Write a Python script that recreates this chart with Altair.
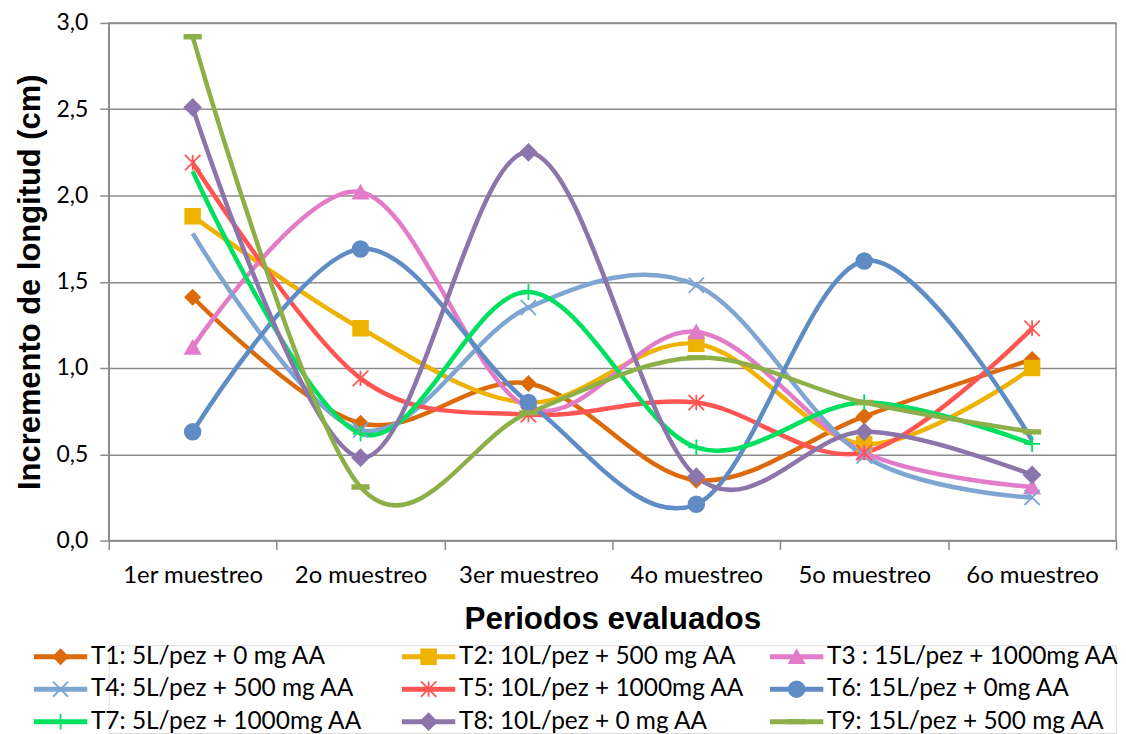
import altair as alt
import pandas as pd

# Sampling periods (x categories)
periodos = ["1er muestreo", "2o muestreo", "3er muestreo", "4o muestreo", "5o muestreo", "6o muestreo"]

# Treatment names
tratamientos = [
    "T1: 5L/pez + 0 mg AA",
    "T2: 10L/pez + 500 mg AA",
    "T3 : 15L/pez + 1000mg AA",
    "T4: 5L/pez + 500 mg AA",
    "T5: 10L/pez + 1000mg AA",
    "T6: 15L/pez + 0mg AA",
    "T7: 5L/pez + 1000mg AA",
    "T8: 10L/pez + 0 mg AA",
    "T9: 15L/pez + 500 mg AA",
]

# Length increment (cm) per treatment and period
t1 = [1.41, 0.68, 0.91, 0.35, 0.72, 1.05]
t2 = [1.88, 1.23, 0.80, 1.14, 0.56, 1.00]
t3 = [1.12, 2.02, 0.77, 1.21, 0.51, 0.31]
t4 = [1.78, 0.64, 1.35, 1.48, 0.49, 0.25]
t5 = [2.19, 0.94, 0.73, 0.80, 0.51, 1.23]
t6 = [0.63, 1.69, 0.80, 0.21, 1.62, 0.58]
t7 = [2.14, 0.62, 1.44, 0.54, 0.80, 0.56]
t8 = [2.51, 0.48, 2.25, 0.37, 0.63, 0.38]
t9 = [2.92, 0.31, 0.74, 1.06, 0.80, 0.63]
valores = [t1, t2, t3, t4, t5, t6, t7, t8, t9]

# Points drawn without a marker (treatment index, period index)
sin_marcador = [(3, 0), (6, 0), (5, 5), (1, 2), (2, 2)]

# Styling per series
colores = ["#DD6A0A", "#EEB200", "#E27CC8", "#7FA6D2", "#FF5552",
           "#5F8CC4", "#00E060", "#8B75AA", "#8DAF48"]
X_PATH = "M-1,-1L1,1M-1,1L1,-1"
STAR_PATH = "M-1,-1L1,1M-1,1L1,-1M0,-1L0,1"
PLUS_PATH = "M0,-1L0,1M-1,0L1,0"
DASH_PATH = "M-1,-0.22L1,-0.22L1,0.22L-1,0.22Z"
formas = ["diamond", "square", "triangle-up", X_PATH, STAR_PATH,
          "circle", PLUS_PATH, "diamond", DASH_PATH]
con_relleno = [True, True, True, False, False, True, False, True, True]
tamanos = [210, 270, 300, 300, 380, 230, 330, 210, 560]
rellenos = [c if f else "transparent" for c, f in zip(colores, con_relleno)]

GRIS = "#8c8c8c"
FUENTE = "Lato"
FUENTE_TITULO = "Liberation Sans"

filas = []
for i, (nombre, serie) in enumerate(zip(tratamientos, valores)):
    for j, (periodo, v) in enumerate(zip(periodos, serie)):
        filas.append({"serie": nombre, "periodo": periodo, "valor": v,
                      "marcador": (i, j) not in sin_marcador})
df = pd.DataFrame(filas)

color_scale = alt.Scale(domain=tratamientos, range=colores)
fill_scale = alt.Scale(domain=tratamientos, range=rellenos)
shape_scale = alt.Scale(domain=tratamientos, range=formas)
size_scale = alt.Scale(domain=tratamientos, range=tamanos)

x_enc = alt.X(
    "periodo:N", sort=periodos, bandPosition=0.5,
    scale=alt.Scale(type="band", paddingInner=0, paddingOuter=0),
    axis=alt.Axis(
        title="Periodos evaluados", labelAngle=0, tickBand="extent",
        tickSize=9, tickColor=GRIS, tickWidth=1.5, domainColor=GRIS, domainWidth=1.5,
        labelFont=FUENTE, labelFontSize=24, labelColor="#000000", labelPadding=14,
        titleFont=FUENTE_TITULO, titleFontSize=31.5, titleFontWeight="bold",
        titleColor="#000000", titlePadding=16, grid=False,
    ),
)
y_enc = alt.Y(
    "valor:Q",
    scale=alt.Scale(domain=[0, 3], nice=False),
    axis=alt.Axis(
        title="Incremento de longitud (cm)",
        values=[0, 0.5, 1.0, 1.5, 2.0, 2.5, 3.0],
        labelExpr="replace(format(datum.value, '.1f'), '.', ',')",
        tickSize=9, tickColor=GRIS, tickWidth=1.5, domainColor=GRIS, domainWidth=1.5,
        gridColor=GRIS, gridWidth=1.5,
        labelFont=FUENTE, labelFontSize=23, labelColor="#000000", labelPadding=12,
        titleFont=FUENTE_TITULO, titleFontSize=31, titleFontWeight="bold",
        titleColor="#000000", titlePadding=9,
    ),
)

lineas = alt.Chart(df).mark_line(interpolate="cardinal", strokeWidth=4.5).encode(
    x=x_enc, y=y_enc,
    color=alt.Color("serie:N", scale=color_scale, legend=None),
)
puntos = alt.Chart(df).transform_filter(alt.datum.marcador).mark_point(
    strokeWidth=1.8, opacity=1
).encode(
    x=x_enc, y=y_enc,
    shape=alt.Shape("serie:N", scale=shape_scale, legend=None),
    size=alt.Size("serie:N", scale=size_scale, legend=None),
    fill=alt.Fill("serie:N", scale=fill_scale, legend=None),
    stroke=alt.Stroke("serie:N", scale=color_scale, legend=None),
)

principal = alt.layer(lineas, puntos).properties(
    width=1010, height=519,
    view=alt.ViewBackground(stroke=GRIS, strokeWidth=1.5),
)

# Legend: three columns of line samples with markers and labels
ley = pd.DataFrame({
    "serie": tratamientos,
    "col": [i % 3 for i in range(len(tratamientos))],
    "fila": [i // 3 for i in range(len(tratamientos))],
})
ley["x0"] = ley["col"]
ley["x1"] = ley["col"] + 0.145
ley["xm"] = ley["col"] + 0.0725
ley["xt"] = ley["col"] + 0.155

lx = alt.Scale(domain=[0.2033, 2.9404])
ly = alt.Scale(domain=[-0.35, 2.35], reverse=True)

muestras = alt.Chart(ley).mark_rule(strokeWidth=5).encode(
    x=alt.X("x0:Q", scale=lx, axis=None),
    x2="x1:Q",
    y=alt.Y("fila:Q", scale=ly, axis=None),
    color=alt.Color("serie:N", scale=color_scale, legend=None),
)
marcas = alt.Chart(ley).mark_point(strokeWidth=1.8, opacity=1).encode(
    x=alt.X("xm:Q", scale=lx, axis=None),
    y=alt.Y("fila:Q", scale=ly, axis=None),
    shape=alt.Shape("serie:N", scale=shape_scale, legend=None),
    size=alt.Size("serie:N", scale=size_scale, legend=None),
    fill=alt.Fill("serie:N", scale=fill_scale, legend=None),
    stroke=alt.Stroke("serie:N", scale=color_scale, legend=None),
)
etiquetas = alt.Chart(ley).mark_text(
    align="left", baseline="middle", font=FUENTE, fontSize=24.5, color="#000000"
).encode(
    x=alt.X("xt:Q", scale=lx, axis=None),
    y=alt.Y("fila:Q", scale=ly, axis=None),
    text="serie:N",
)
leyenda = alt.layer(muestras, marcas, etiquetas).properties(width=1010, height=88)

chart = alt.vconcat(principal, leyenda, spacing=6).properties(
    padding={"left": 14, "top": 10, "right": 6, "bottom": 0},
).configure_view(stroke="transparent").configure(background="white")

chart.save("out.html", embed_options={"renderer": "svg", "actions": False})
